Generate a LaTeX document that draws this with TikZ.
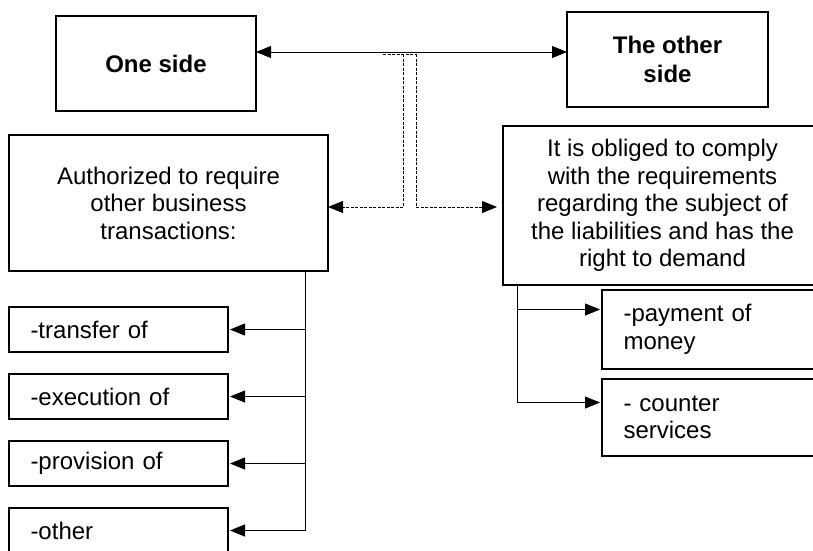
\documentclass[tikz,border=0pt]{standalone}
\usepackage{fontspec}
\setmainfont{Liberation Sans}
\usetikzlibrary{arrows.meta,positioning}

\begin{document}
\begin{tikzpicture}[
x=1pt,y=-1pt,
node distance=22pt,
every node/.style={font=\fontsize{24}{27.5}\selectfont},
box/.style={draw,line width=1.8pt,inner sep=0pt,outer sep=0pt,align=center},
side/.style={box,font=\fontsize{24}{29}\selectfont\bfseries,minimum width=200pt,minimum height=95pt},
bigbox/.style={box,minimum width=319pt},
item/.style={box,align=left,text width=176pt,inner xsep=21.5pt,minimum height=45pt},
line/.style={line width=0.8pt},
arr/.style={line,-{Triangle[length=15pt,width=12pt]}},
biarr/.style={line,{Triangle[length=15pt,width=12pt]}-{Triangle[length=15pt,width=12pt]}},
dline/.style={line,dash pattern=on 3pt off 1.5pt},
darr/.style={arr,dline}
]
\useasboundingbox (0,0) rectangle (813,550);
\clip (0,0) rectangle (813,550);

\node[side] (oneside) at (156,63.5) {One side};
\node[side,minimum width=201pt] (otherside) at (667.5,59.5) {The other\\side};
\node[bigbox,minimum height=136pt] (auth) at (168.5,203) {Authorized to require\\other business\\transactions:};
\node[bigbox,minimum height=159pt] (oblig) at (662.5,205.5) {It is obliged to comply\\with the requirements\\regarding the subject of\\the liabilities and has the\\right to demand};

\node[item] (transfer) at (118.5,329.5) {-transfer of};
\node[item,below=of transfer] (execution) {-execution of};
\node[item,below=of execution] (provision) {-provision of};
\node[item,below=of provision] (otheritem) {-other};

\node[item,minimum height=79pt] (payment) at (711.5,329.5) {-payment of\\money};
\node[item,minimum height=77pt,below=10pt of payment] (counter) {- counter\\services};

\coordinate (top) at (412,52);
\draw[biarr] (oneside.east |- top) -- (otherside.west |- top);

\coordinate (dstart) at (383,54);
\coordinate (dleft) at (403,54);
\coordinate (dright) at (416,54);
\draw[dline] (dstart) -- (dright);
\draw[darr] (dleft) |- ([yshift=-4pt]auth.east);
\draw[darr,shorten >=6pt] (dright) |- ([yshift=-1.5pt]oblig.west);

\coordinate (ltrunk) at (305,0);
\draw[line] (auth.south -| ltrunk) -- (ltrunk |- otheritem.east);
\draw[arr,shorten >=2pt] (ltrunk |- transfer.east) -- (transfer.east);
\draw[arr,shorten >=2pt] (ltrunk |- execution.east) -- (execution.east);
\draw[arr,shorten >=2pt] (ltrunk |- provision.east) -- (provision.east);
\draw[arr,shorten >=2pt] (ltrunk |- otheritem.east) -- (otheritem.east);

\coordinate (rtrunk) at (517,0);
\draw[arr,shorten >=2pt] (oblig.south -| rtrunk) |- ([yshift=20pt]payment.west);
\draw[arr,shorten >=2pt] (oblig.south -| rtrunk) |- ([yshift=15pt]counter.west);
\end{tikzpicture}
\end{document}
